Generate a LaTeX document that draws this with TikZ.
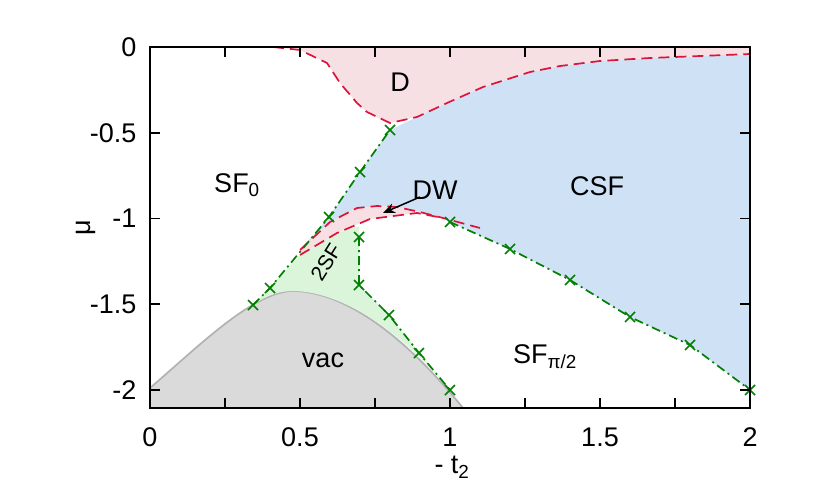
\documentclass[tikz,border=0pt]{standalone}
\usepackage{fontspec}
\setmainfont{Liberation Sans}
\usetikzlibrary{arrows.meta}

\definecolor{dpink}{RGB}{247,224,227}
\definecolor{csfblue}{RGB}{207,226,245}
\definecolor{sfgreen}{RGB}{218,245,218}
\definecolor{vacgray}{RGB}{218,218,218}
\definecolor{dred}{RGB}{220,20,60}
\definecolor{pgreen}{RGB}{0,128,0}

\begin{document}
\begin{tikzpicture}[ x = 1pt, y = -1pt
                   , font = \fontsize{27}{30}\selectfont
                   , >={Stealth[width=10pt, length=12pt]}
                   , redline/.style = {draw = dred, line width = 1.7pt, dash pattern = on 11pt off 6pt}
                   , greenline/.style = {draw = pgreen, line width = 1.7pt, dash pattern = on 9pt off 4pt on 2pt off 4pt}
                   , cross/.style = {draw = pgreen, line width = 1.7pt}
                   ]
    \useasboundingbox (0,0) rectangle (830,498);
    %%
    %% Regions
    %%
    \fill[vacgray] (150,388) .. controls (200,345) and (250,295) .. (290,291)
        .. controls (340,290) and (400,330) .. (463,408) -- (150,408) -- cycle;
    \draw[gray!60, line width=1.7pt] (150,388) .. controls (200,345) and (250,295) .. (290,291)
        .. controls (340,290) and (400,330) .. (463,408);
    \fill[sfgreen] (253,305) -- (300,255) -- (337,233) -- (359,226) -- (359,237) -- (359,285)
        -- (389,315) -- (419,353) -- (450,390) .. controls (400,330) and (340,290) .. (290,291)
        .. controls (275,292) and (262,298) .. (253,305) -- cycle;
    \fill[csfblue] (300,250) -- (329,217) -- (360,172) -- (390,130) -- (417,117) -- (447,103)
        -- (483,87) -- (530,72) -- (560,66) -- (600,61) -- (650,58) -- (700,56) -- (750,54)
        -- (750,390) -- (690,345) -- (630,317) -- (570,280) -- (510,249) -- (450,222)
        -- (443,218) -- (420,212) -- (397,207) -- (377,206) -- (357,208) -- (330,222) -- cycle;
    \fill[dpink] (300,250) -- (330,222) -- (357,208) -- (377,206) -- (397,207) -- (420,212)
        -- (443,218) -- (417,213) -- (370,219) -- (337,233) -- (300,255) -- cycle;
    \fill[dpink] (273,47) -- (300,50) -- (327,63) -- (340,83) -- (357,103) -- (367,112)
        -- (387,123) -- (390,123) -- (417,117) -- (447,103) -- (483,87) -- (530,72)
        -- (560,66) -- (600,61) -- (650,58) -- (700,56) -- (750,54) -- (750,47) -- cycle;
    %%
    %% Boundaries
    %%
    \draw[redline] (273,47) -- (300,50) -- (327,63) -- (340,83) -- (357,103) -- (367,112)
        -- (390,123) -- (417,117) -- (447,103) -- (483,87) -- (530,72) -- (560,66)
        -- (600,61) -- (650,58) -- (700,56) -- (750,54);
    \draw[redline] (300,250) -- (330,222) -- (357,208) -- (377,206) -- (397,207) -- (420,212)
        -- (443,218) -- (480,228);
    \draw[redline] (300,255) -- (337,233) -- (370,219) -- (417,213) -- (443,218);
    \draw[greenline] (253,305) -- (270,288) -- (329,217) -- (360,172) -- (390,130);
    \draw[greenline] (359,237) -- (359,285) -- (389,315) -- (419,353) -- (450,390);
    \draw[greenline] (450,222) -- (510,249) -- (570,280) -- (630,317) -- (690,345) -- (750,390);
    \foreach \px/\py in {253/305, 270/288, 329/217, 360/172, 390/130, 359/237, 359/285,
                         389/315, 419/353, 450/390, 450/222, 510/249, 570/280, 630/317,
                         690/345, 750/390}
      \draw[cross] (\px-5,\py-5) -- (\px+5,\py+5) (\px-5,\py+5) -- (\px+5,\py-5);
    %%
    %% Frame and ticks
    %%
    \draw[line width=1.7pt] (150,47) rectangle (750,408);
    \foreach \t [count=\i from 0] in {0,0.25,0.5,0.75,1,1.25,1.5,1.75,2}
      \draw[line width=1.7pt] (150+75*\i,408) -- ++(0,-10) (150+75*\i,47) -- ++(0,10);
    \foreach \t/\lab in {0/0, 0.5/0.5, 1/1, 1.5/1.5, 2/2}
      \node (xl\lab) at (150+300*\t,437) {\lab};
    \foreach \t/\lab in {0/0, 0.5/-0.5, 1/-1, 1.5/-1.5, 2/-2}
    {
      \draw[line width=1.7pt] (150,47+171.5*\t) -- ++(10,0) (750,47+171.5*\t) -- ++(-10,0);
      \node[anchor=east] (yl\t) at (140,47+171.5*\t) {\lab};
    }
    %%
    %% Labels
    %%
    \node (xlabel) at (452,467) {- t\textsubscript{2}};
    \node[rotate=90] (ylabel) at (86,228) {μ};
    \node (lD)   at (400,82)  {D};
    \node (lsf0) at (237,185) {SF\textsubscript{0}};
    \node (lcsf) at (597,186) {CSF};
    \node (ldw)  at (435,190) {DW};
    \node[rotate=58, inner sep=0pt] (l2sf) at (326,262) {\fontsize{21}{23}\selectfont 2SF};
    \node (lvac) at (323,360) {vac};
    \node (lsfp) at (545,357) {SF\textsubscript{π/2}};
    \draw[->, line width=1.5pt] (420,197) -- (383,213);
\end{tikzpicture}
\end{document}
